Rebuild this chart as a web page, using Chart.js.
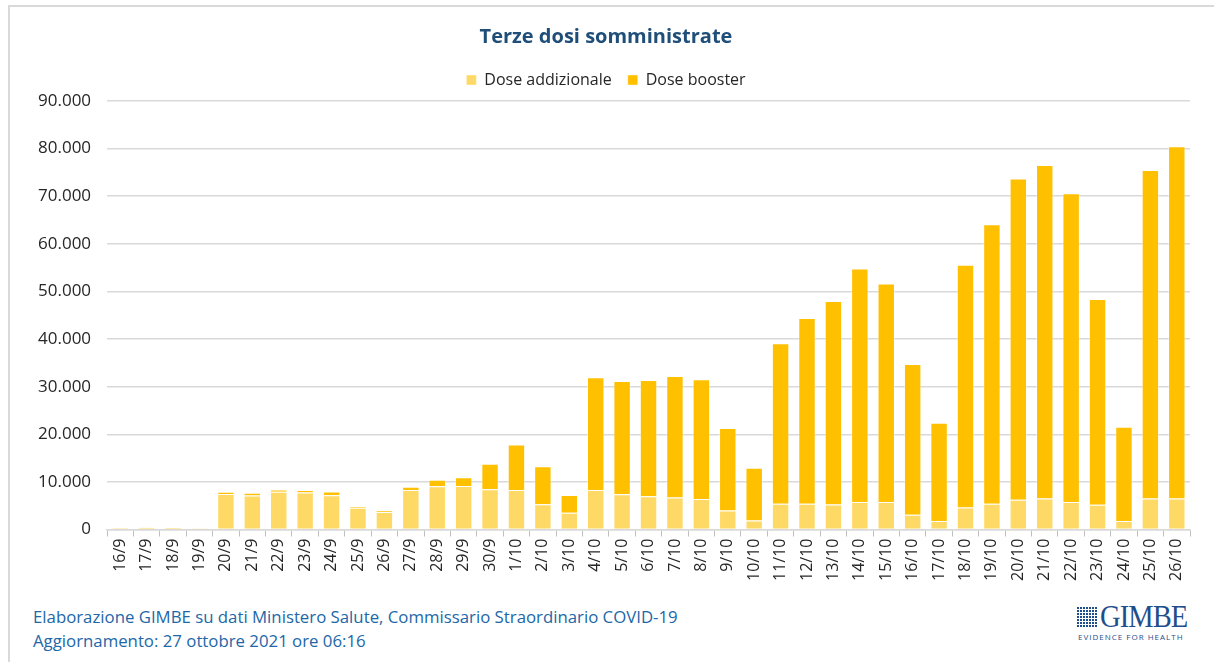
<!DOCTYPE html>
<html lang="it">
<head>
<meta charset="utf-8">
<title>Terze dosi somministrate</title>
<script src="https://cdn.jsdelivr.net/npm/chart.js@4.4.0/dist/chart.umd.min.js"></script>
<style>
  html, body { margin: 0; padding: 0; background: #fff; }
  body { width: 1214px; height: 662px; position: relative; overflow: hidden; font-family: "Open Sans", sans-serif; }
  .frame { position: absolute; left: 8px; top: 5px; width: 1220px; height: 670px; border-left: 2px solid #d9d9d9; border-top: 2px solid #d9d9d9; }
  .chart-box { position: absolute; left: 10px; top: 7px; width: 1200px; height: 576px; }
  .footer { position: absolute; left: 33px; color: #2167a8; font-size: 16.8px; white-space: nowrap; }
  .logo { position: absolute; left: 1077px; top: 604px; width: 112px; height: 40px; color: #1f4e8c; }
  .logo .grid { position: absolute; left: 0; top: 3px; width: 21px; height: 21px;
    background-image: linear-gradient(90deg, transparent 2px, #fff 2px), linear-gradient(transparent 2px, #fff 2px);
    background-size: 3px 3px; background-color: #1f4e8c; }
  .logo .name { position: absolute; left: 23px; top: -5px; font-family: "Liberation Serif", serif; font-size: 31px; letter-spacing: -1px; transform: scaleX(0.92); transform-origin: left; }
  .logo .tag { position: absolute; left: 1px; top: 27px; font-size: 8px; letter-spacing: 1px; white-space: nowrap; }
</style>
</head>
<body>
<div class="frame"></div>
<div class="chart-box"><canvas id="terzeDosiChart" width="1200" height="576"></canvas></div>
<div class="footer" style="top:605px">Elaborazione GIMBE su dati Ministero Salute, Commissario Straordinario COVID-19</div>
<div class="footer" style="top:629px">Aggiornamento: 27 ottobre 2021 ore 06:16</div>
<div class="logo"><div class="grid"></div><div class="name">GIMBE</div><div class="tag">EVIDENCE FOR HEALTH</div></div>

<script>
// ---- DATA ----
const giorni = [
  "16/9", "17/9", "18/9", "19/9", "20/9", "21/9", "22/9", "23/9", "24/9", "25/9",
  "26/9", "27/9", "28/9", "29/9", "30/9", "1/10", "2/10", "3/10", "4/10", "5/10",
  "6/10", "7/10", "8/10", "9/10", "10/10", "11/10", "12/10", "13/10", "14/10", "15/10",
  "16/10", "17/10", "18/10", "19/10", "20/10", "21/10", "22/10", "23/10", "24/10", "25/10",
  "26/10"
];

const doseAddizionale = [
  350, 450, 480, 300, 7450, 7150, 7950, 7800, 7200, 4600,
  3700, 8300, 9100, 9150, 8450, 8300, 5300, 3500, 8300, 7400,
  7000, 6750, 6400, 4000, 1900, 5400, 5400, 5250, 5800, 5800,
  3100, 1800, 4650, 5400, 6250, 6500, 5800, 5200, 1800, 6500,
  6500
];

const doseBooster = [
  30, 50, 40, 30, 500, 600, 450, 500, 800, 300,
  250, 700, 1350, 1850, 5350, 9550, 7980, 3730, 23670, 23800,
  24400, 25500, 25150, 17300, 11100, 33700, 39050, 42750, 49000, 45850,
  31660, 20650, 50940, 58700, 67500, 70070, 64850, 43220, 19800, 69000,
  74000
];

const yMax = 90000;
const yStep = 10000;

// ---- HELPERS ----
function formatIt(v) {
  return String(v).replace(/\B(?=(\d{3})+(?!\d))/g, ".");
}

// extra room under the legend
const legendGap = {
  id: "legendGap",
  beforeInit(chart) {
    const fitOrig = chart.legend.fit;
    chart.legend.fit = function () {
      fitOrig.bind(chart.legend)();
      this.height += 3;
    };
  }
};

// ---- CHART ----
new Chart(document.getElementById("terzeDosiChart"), {
  type: "bar",
  data: {
    labels: giorni,
    datasets: [
      {
        label: "Dose addizionale",
        data: doseAddizionale,
        backgroundColor: "#ffd966",
        borderColor: "rgba(255,255,255,0.4)",
        borderWidth: 1,
        barPercentage: 0.66,
        categoryPercentage: 1
      },
      {
        label: "Dose booster",
        data: doseBooster,
        backgroundColor: "#ffc000",
        borderColor: "rgba(255,255,255,0.4)",
        borderWidth: 1,
        barPercentage: 0.66,
        categoryPercentage: 1
      }
    ]
  },
  plugins: [legendGap],
  options: {
    responsive: false,
    maintainAspectRatio: false,
    animation: false,
    devicePixelRatio: 1,
    layout: { padding: { left: 12, right: 20, top: 10, bottom: 0 } },
    plugins: {
      title: {
        display: true,
        text: "Terze dosi somministrate",
        color: "#1f4e79",
        font: { family: "Open Sans", size: 20, weight: "bold" },
        padding: { top: 8, bottom: 7 }
      },
      legend: {
        display: true,
        position: "top",
        labels: {
          color: "#262626",
          font: { family: "Open Sans", size: 16 },
          boxWidth: 10,
          boxHeight: 10,
          padding: 16
        }
      },
      tooltip: { enabled: false }
    },
    scales: {
      x: {
        stacked: true,
        offset: true,
        grid: {
          offset: true,
          drawOnChartArea: false,
          drawTicks: true,
          tickLength: 7,
          color: "#bfbfbf"
        },
        border: { color: "#d9d9d9", width: 1.5 },
        ticks: {
          autoSkip: false,
          minRotation: 90,
          maxRotation: 90,
          color: "#262626",
          font: { family: "Open Sans", size: 16 },
          padding: 2
        }
      },
      y: {
        stacked: true,
        min: 0,
        max: yMax,
        grid: { color: "#d9d9d9", lineWidth: 1.5, drawTicks: false },
        border: { display: false },
        ticks: {
          stepSize: yStep,
          color: "#262626",
          font: { family: "Open Sans", size: 17 },
          padding: 16,
          callback: function (v) { return formatIt(v); }
        }
      }
    }
  }
});
</script>
</body>
</html>
